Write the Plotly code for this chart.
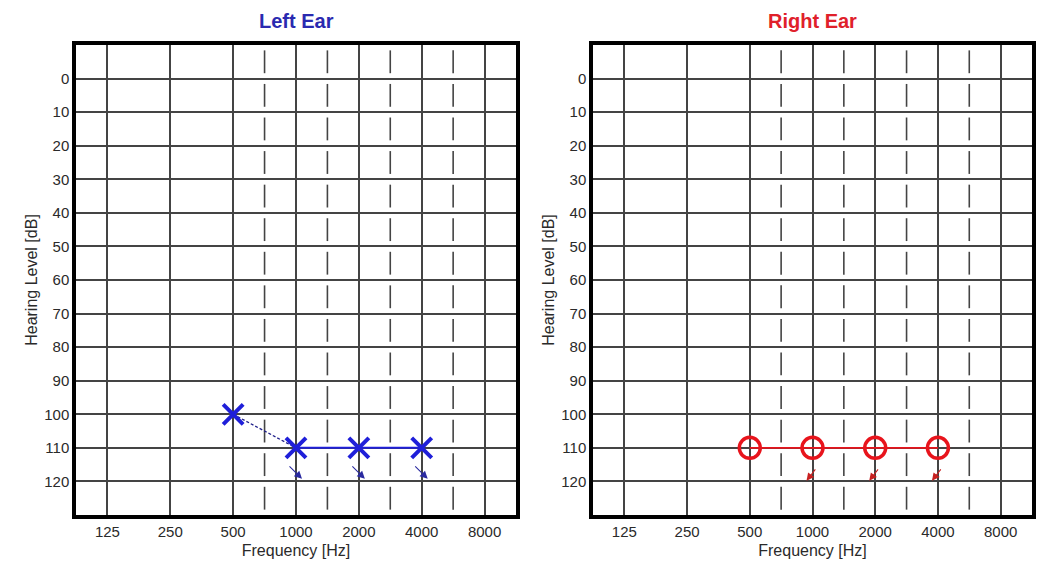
import math
import plotly.graph_objects as go

# ---- data ----
freqs = [500, 1000, 2000, 4000]
left_db = [100, 110, 110, 110]
right_db = [110, 110, 110, 110]
left_noresp = [False, True, True, True]
right_noresp = [False, True, True, True]
grid_freqs = [125, 250, 500, 1000, 2000, 4000, 8000]
grid_labels = ["125", "250", "500", "1000", "2000", "4000", "8000"]
mid_freqs = [707, 1414, 2828, 5657]  # half-octave dashed lines
db_ticks = list(range(0, 130, 10))

W, H = 1043, 564
BLUE = "#1f1fd9"
RED = "#e8141c"
GRID = "#444444"
FONT = "Liberation Sans, Arial, sans-serif"

fig = go.Figure()

x_range = [math.log10(125 / math.sqrt(2)), math.log10(8000 * math.sqrt(2))]
y_range = [130, -10]

doms = {"x": [76 / W, 516 / W], "x2": [593 / W, 1032 / W]}
ydom = [1 - 515 / H, 1 - 45 / H]

# dashed half-octave lines
for xa, ya in [("x", "y"), ("x2", "y2")]:
    xs, ys = [], []
    for f in mid_freqs:
        for k in range(-10, 130, 10):
            xs += [f, f, None]
            ys += [k + 1.6, k + 8.4, None]
    fig.add_trace(go.Scatter(x=xs, y=ys, mode="lines", xaxis=xa, yaxis=ya,
                             line=dict(color=GRID, width=1.6), hoverinfo="skip",
                             showlegend=False))

# left ear: dashed connector for first segment, solid for the rest
fig.add_trace(go.Scatter(x=freqs[:2], y=left_db[:2], mode="lines", xaxis="x", yaxis="y",
                         line=dict(color="#20208a", width=1.3, dash="3px,2px"),
                         showlegend=False))
fig.add_trace(go.Scatter(x=freqs[1:], y=left_db[1:], mode="lines", xaxis="x", yaxis="y",
                         line=dict(color=BLUE, width=2), showlegend=False))
fig.add_trace(go.Scatter(x=freqs, y=left_db, mode="markers", xaxis="x", yaxis="y",
                         marker=dict(symbol="x-thin", size=20, color=BLUE,
                                     line=dict(color=BLUE, width=4)),
                         showlegend=False))

# right ear
fig.add_trace(go.Scatter(x=freqs, y=right_db, mode="lines", xaxis="x2", yaxis="y2",
                         line=dict(color=RED, width=1.6), showlegend=False))
fig.add_trace(go.Scatter(x=freqs, y=right_db, mode="markers", xaxis="x2", yaxis="y2",
                         marker=dict(symbol="circle-open", size=21, color=RED,
                                     line=dict(color=RED, width=3.5)),
                         showlegend=False))

annotations = []
# no-response arrows
for f, d, nr in zip(freqs, left_db, left_noresp):
    if nr:
        annotations.append(dict(x=math.log10(f), y=d, xref="x", yref="y", text="",
                                showarrow=True, ax=-14, ay=-14, xshift=6, yshift=-31,
                                arrowhead=2, arrowsize=1.4, arrowwidth=1.1,
                                arrowcolor="#2a2aa0"))
for f, d, nr in zip(freqs, right_db, right_noresp):
    if nr:
        annotations.append(dict(x=math.log10(f), y=d, xref="x2", yref="y2", text="",
                                showarrow=True, ax=10, ay=-13, xshift=-6, yshift=-33,
                                arrowhead=2, arrowsize=1.4, arrowwidth=1.1,
                                arrowcolor="#c82020"))

# ear titles
annotations.append(dict(text="<b>Left Ear</b>", x=sum(doms["x"]) / 2, y=1 - 21 / H,
                        xref="paper", yref="paper", showarrow=False,
                        xanchor="center", yanchor="middle",
                        font=dict(family=FONT, size=20, color="#2a2ab0")))
annotations.append(dict(text="<b>Right Ear</b>", x=sum(doms["x2"]) / 2, y=1 - 21 / H,
                        xref="paper", yref="paper", showarrow=False,
                        xanchor="center", yanchor="middle",
                        font=dict(family=FONT, size=20, color="#e0202a")))

xaxis_common = dict(type="log", range=x_range, tickvals=grid_freqs, ticktext=grid_labels,
                    showgrid=True, gridcolor=GRID, gridwidth=1.6, zeroline=False,
                    showline=True, mirror=True, linecolor="black", linewidth=3.5,
                    ticks="", tickfont=dict(family=FONT, size=15, color="#2a2a2a"),
                    title=dict(text="Frequency [Hz]", standoff=7,
                               font=dict(family=FONT, size=16, color="#2a2a2a")))
yaxis_common = dict(range=y_range, tickvals=db_ticks, showgrid=True, gridcolor=GRID,
                    gridwidth=1.6, zeroline=False, showline=True, mirror=True,
                    linecolor="black", linewidth=3.5, ticks="",
                    tickfont=dict(family=FONT, size=15, color="#2a2a2a"),
                    title=dict(text="Hearing Level [dB]", standoff=4,
                               font=dict(family=FONT, size=16, color="#2a2a2a")))

fig.update_layout(
    width=W, height=H,
    margin=dict(l=0, r=0, t=0, b=0),
    paper_bgcolor="white", plot_bgcolor="white",
    xaxis=dict(domain=doms["x"], anchor="y", **xaxis_common),
    yaxis=dict(domain=ydom, anchor="x", **yaxis_common),
    xaxis2=dict(domain=doms["x2"], anchor="y2", **xaxis_common),
    yaxis2=dict(domain=ydom, anchor="x2", **yaxis_common),
    annotations=annotations,
    showlegend=False,
)

fig.write_html("out.html")
